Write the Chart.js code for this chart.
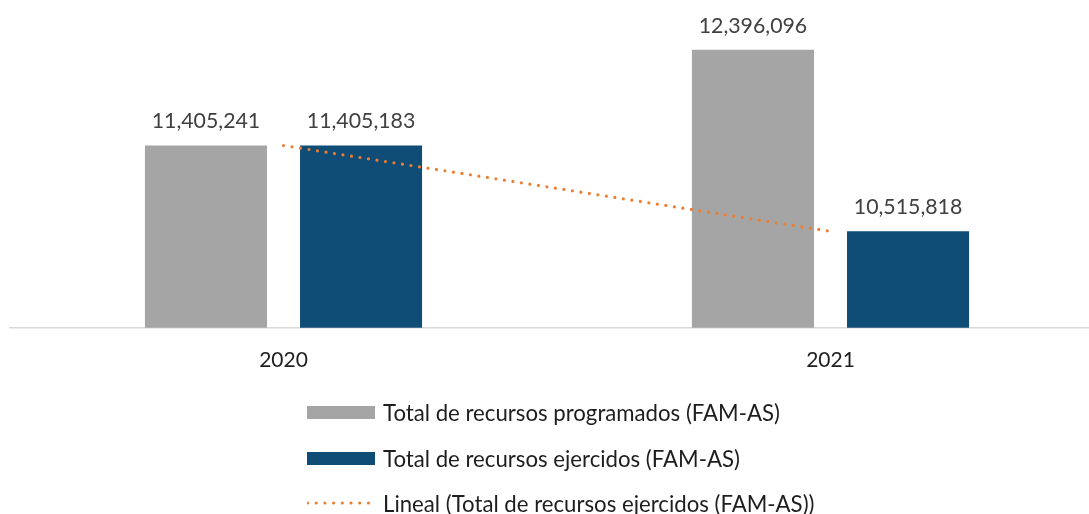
<!DOCTYPE html>
<html>
<head>
<meta charset="utf-8">
<script src="https://cdn.jsdelivr.net/npm/chart.js@4"></script>
<style>
  html, body { margin: 0; padding: 0; background: #fff; }
  #wrap { position: relative; width: 1089px; height: 514px; overflow: hidden; }
  #c { position: absolute; left: 0; top: 0; }
  .leg { position: absolute; left: 307px; height: 30px; display: flex; align-items: center;
         font-family: Lato, "Noto Sans", sans-serif; font-size: 22.2px; color: #1e1e1e; white-space: nowrap; }
  .leg .sw { width: 68px; height: 13px; margin-right: 8px; }
  .leg svg { margin-right: 8px; }
</style>
</head>
<body>
<div id="wrap">
  <canvas id="c" width="1104" height="514"></canvas>
  <div id="legend"></div>
</div>
<script>
const categories = ['2020', '2021'];
const programados = [11405241, 12396096];
const ejercidos = [11405183, 10515818];
const seriesLabels = [
  'Total de recursos programados (FAM-AS)',
  'Total de recursos ejercidos (FAM-AS)',
  'Lineal (Total de recursos ejercidos (FAM-AS))'
];
const colors = ['#A5A5A5', '#0F4D77', '#ED7D31'];

// linear trend (least squares) of the ejercidos series
function linearTrend(vals) {
  const n = vals.length;
  const xs = vals.map((_, i) => i + 1);
  const mx = xs.reduce((a, b) => a + b, 0) / n;
  const my = vals.reduce((a, b) => a + b, 0) / n;
  let num = 0, den = 0;
  for (let i = 0; i < n; i++) { num += (xs[i] - mx) * (vals[i] - my); den += (xs[i] - mx) ** 2; }
  const b = num / den, a = my - b * mx;
  return xs.map(x => a + b * x);
}
const trend = linearTrend(ejercidos);

const fmt = v => v.toLocaleString('en-US');

const labelPlugin = {
  id: 'barLabels',
  afterDatasetsDraw(chart) {
    const ctx = chart.ctx;
    ctx.save();
    ctx.font = '21.3px Lato, "Noto Sans", sans-serif';
    ctx.fillStyle = '#404040';
    ctx.textAlign = 'center';
    ctx.textBaseline = 'alphabetic';
    [0, 1].forEach(di => {
      const meta = chart.getDatasetMeta(di);
      meta.data.forEach((bar, i) => {
        ctx.fillText(fmt(chart.data.datasets[di].data[i]), bar.x, bar.y - 17);
      });
    });
    ctx.restore();
  }
};

const chart = new Chart(document.getElementById('c'), {
  data: {
    labels: categories,
    datasets: [
      { type: 'bar', label: seriesLabels[0], data: programados, backgroundColor: colors[0],
        barPercentage: 0.787, categoryPercentage: 0.567, order: 1 },
      { type: 'bar', label: seriesLabels[1], data: ejercidos, backgroundColor: colors[1],
        barPercentage: 0.787, categoryPercentage: 0.567, order: 1 },
      { type: 'line', label: seriesLabels[2], data: trend, borderColor: colors[2],
        borderWidth: 3.2, borderDash: [0, 8.6], borderCapStyle: 'round', pointRadius: 0,
        fill: false, tension: 0, order: -1 }
    ]
  },
  options: {
    responsive: false,
    devicePixelRatio: 1,
    animation: false,
    layout: { padding: { left: 10, right: 0, top: 21, bottom: 121 } },
    plugins: { legend: { display: false }, tooltip: { enabled: false } },
    scales: {
      x: {
        offset: true,
        grid: { display: false, drawTicks: false },
        border: { display: true, color: '#D9D9D9', width: 1.5 },
        ticks: { color: '#1e1e1e', font: { family: 'Lato', size: 21 }, padding: 20 }
      },
      y: { display: false, min: 9516000, max: 12695000 }
    }
  },
  plugins: [labelPlugin]
});

// HTML legend built from the datasets
const legend = document.getElementById('legend');
const tops = [397, 443, 488];
chart.data.datasets.forEach((ds, i) => {
  const row = document.createElement('div');
  row.className = 'leg';
  row.style.top = tops[i] + 'px';
  if (ds.type === 'bar') {
    const sw = document.createElement('div');
    sw.className = 'sw';
    sw.style.background = ds.backgroundColor;
    row.appendChild(sw);
  } else {
    const ns = 'http://www.w3.org/2000/svg';
    const svg = document.createElementNS(ns, 'svg');
    svg.setAttribute('width', '68'); svg.setAttribute('height', '10');
    const ln = document.createElementNS(ns, 'line');
    ln.setAttribute('x1', '0.5'); ln.setAttribute('x2', '62'); ln.setAttribute('y1', '5'); ln.setAttribute('y2', '5');
    ln.setAttribute('stroke', ds.borderColor); ln.setAttribute('stroke-width', '3.2');
    ln.setAttribute('stroke-linecap', 'round'); ln.setAttribute('stroke-dasharray', '0 8.7');
    svg.appendChild(ln);
    row.appendChild(svg);
  }
  const t = document.createElement('span');
  t.textContent = ds.label;
  row.appendChild(t);
  legend.appendChild(row);
});
</script>
</body>
</html>
